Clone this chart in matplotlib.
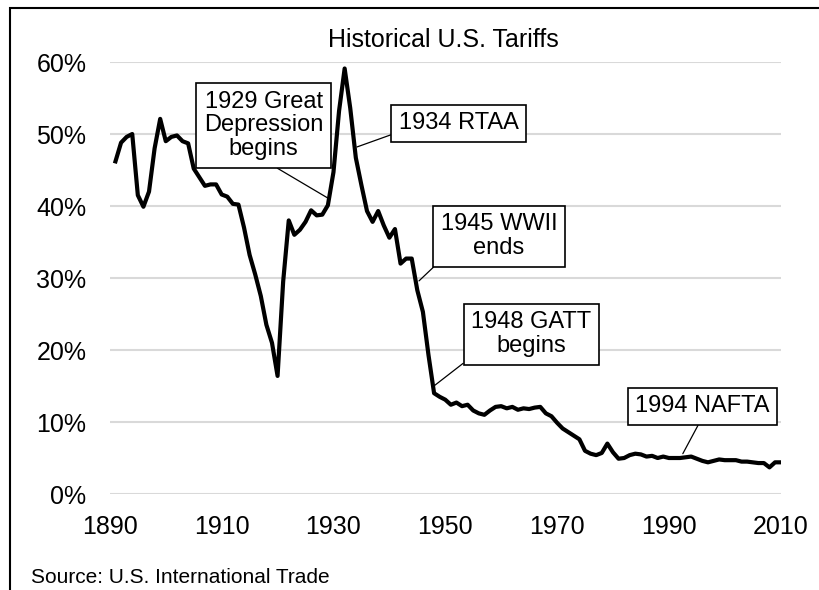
import numpy as np
import matplotlib.pyplot as plt
from matplotlib.patches import Rectangle
from matplotlib.ticker import PercentFormatter

plt.rcParams['font.family'] = ['Liberation Sans', 'DejaVu Sans']

# Average U.S. tariff rate (percent)
years = list(range(1891, 2011))
tariff = [
    46.2, 48.8, 49.6, 50.0, 41.5, 39.9, 42.0, 48.0, 52.1, 49.0,   # 1891-1900
    49.6, 49.8, 49.0, 48.7, 45.2, 44.0, 42.8, 43.0, 43.0, 41.6,   # 1901-1910
    41.3, 40.3, 40.2, 37.0, 33.2, 30.5, 27.5, 23.5, 21.0, 16.4,   # 1911-1920
    29.5, 38.0, 36.0, 36.7, 37.8, 39.4, 38.7, 38.8, 40.1, 44.7,   # 1921-1930
    53.2, 59.1, 53.6, 46.7, 42.9, 39.3, 37.8, 39.3, 37.3, 35.6,   # 1931-1940
    36.8, 32.0, 32.7, 32.7, 28.3, 25.3, 19.3, 14.0, 13.5, 13.1,   # 1941-1950
    12.4, 12.7, 12.2, 12.4, 11.6, 11.2, 11.0, 11.6, 12.1, 12.2,   # 1951-1960
    11.9, 12.1, 11.7, 11.9, 11.8, 12.0, 12.1, 11.2, 10.8, 9.9,    # 1961-1970
    9.1, 8.6, 8.1, 7.6, 6.0, 5.6, 5.4, 5.7, 7.0, 5.8,             # 1971-1980
    4.9, 5.0, 5.4, 5.6, 5.5, 5.2, 5.3, 5.0, 5.2, 5.0,             # 1981-1990
    5.0, 5.0, 5.1, 5.2, 4.9, 4.6, 4.4, 4.6, 4.8, 4.7,             # 1991-2000
    4.7, 4.7, 4.5, 4.5, 4.4, 4.3, 4.3, 3.7, 4.4, 4.4,             # 2001-2010
]

# annotation labels and the (year, rate) they point at
notes = ['1929 Great\nDepression\nbegins', '1934 RTAA', '1945 WWII\nends',
         '1948 GATT\nbegins', '1994 NAFTA']
note_points = [(1929.0, 41.1), (1934.2, 48.2), (1945.3, 29.6),
               (1947.8, 14.9), (1992.5, 5.6)]

# where the boxes sit (data coords) and where the leader leaves the box
box_pos = [(1917.5, 51.2), (1952.4, 51.5), (1959.6, 35.8),
           (1965.4, 22.2), (1996.0, 12.2)]
rel_pos = [(0.5, 0.0), (0.0, 0.1), (0.02, 0.02), (0.0, 0.0), (0.5, 0.0)]

fig = plt.figure(figsize=(8.2, 5.9), dpi=100)
ax = fig.add_axes([0.134, 0.1627, 0.818, 0.7322])

ax.plot(years, tariff, color='black', lw=3, solid_joinstyle='round', zorder=3)

ax.set_xlim(1890, 2010)
ax.set_ylim(0, 60)
ax.set_xticks(range(1890, 2011, 20))
ax.set_yticks(range(0, 61, 10))
ax.yaxis.set_major_formatter(PercentFormatter(decimals=0))
ax.tick_params(length=0, labelsize=18, colors='black')
ax.tick_params(axis='y', pad=17)
ax.tick_params(axis='x', pad=15)
ax.grid(axis='y', color='#d9d9d9', lw=1.5)
ax.set_axisbelow(True)
for s in ax.spines.values():
    s.set_visible(False)

for txt, pt, pos, rp in zip(notes, note_points, box_pos, rel_pos):
    ax.annotate(txt, xy=pt, xytext=pos, textcoords='data',
                ha='center', va='center', fontsize=17, linespacing=1.1,
                multialignment='center',
                bbox=dict(boxstyle='square,pad=0.32', fc='white', ec='black', lw=1.2),
                arrowprops=dict(arrowstyle='-', color='black', lw=0.9,
                                relpos=rp, shrinkA=0, shrinkB=0),
                zorder=4)

fig.text(0.541, 0.933, 'Historical U.S. Tariffs', ha='center', va='center',
         fontsize=18)
fig.text(0.038, 0.022, 'Source: U.S. International Trade', ha='left',
         va='center', fontsize=15)

# outer frame, cropped at the right and bottom like the reference
fig.patches.append(Rectangle((10 / 820, -0.2), 1.5, 1.2 - 8 / 590,
                             transform=fig.transFigure, fill=False,
                             ec='black', lw=1.5))

fig.savefig('out.png', dpi=100)
